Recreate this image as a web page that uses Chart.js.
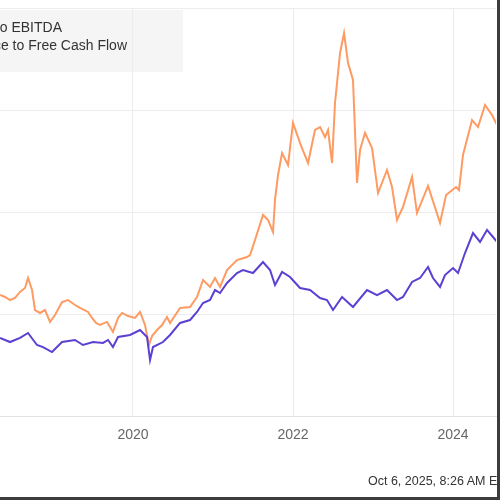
<!DOCTYPE html>
<html>
<head>
<meta charset="utf-8">
<script src="https://cdn.jsdelivr.net/npm/chart.js@4"></script>
<style>
  html, body { margin: 0; padding: 0; width: 500px; height: 500px; overflow: hidden; background: #fff; }
  #wrap { position: relative; width: 500px; height: 500px; overflow: hidden; font-family: "Liberation Sans", Arial, sans-serif; }
  canvas { position: absolute; left: 0; top: 0; }
  .legend { position: absolute; left: 0; top: 10px; width: 183px; height: 62px; background: rgba(236, 236, 236, 0.55); }
  .legend div { position: absolute; white-space: nowrap; font-size: 14px; line-height: 16px; color: #333; }
  .stamp { position: absolute; left: 368px; top: 474px; white-space: nowrap; font-size: 12.5px; color: #333; }
  .edge-r { position: absolute; right: 0; top: 0; width: 3px; height: 500px; background: #3c3c3c; }
  .edge-b { position: absolute; left: 0; bottom: 0; width: 500px; height: 3px; background: #3c3c3c; }
</style>
</head>
<body>
<div id="wrap">
  <canvas id="chart" width="500" height="500"></canvas>
  <div class="legend">
    <div style="right:121px; top:9px;">EV to EBITDA</div>
    <div style="right:56px; top:27px;">Price to Free Cash Flow</div>
  </div>
  <div class="stamp">Oct 6, 2025, 8:26 AM EDT</div>
  <div class="edge-r"></div>
  <div class="edge-b"></div>
</div>
<script>
// dates as decimal years
var evEbitdaDates = [
  2018.338, 2018.463, 2018.588, 2018.688, 2018.800, 2018.875, 2018.988, 2019.113, 2019.275, 2019.375,
  2019.500, 2019.625, 2019.688, 2019.750, 2019.813, 2019.963, 2020.088, 2020.175, 2020.213, 2020.250,
  2020.375, 2020.463, 2020.588, 2020.713, 2020.800, 2020.875, 2020.963, 2021.025, 2021.088, 2021.175,
  2021.300, 2021.375, 2021.500, 2021.625, 2021.713, 2021.775, 2021.863, 2021.963, 2022.088, 2022.213,
  2022.338, 2022.425, 2022.500, 2022.613, 2022.750, 2022.925, 2023.050, 2023.175, 2023.300, 2023.375,
  2023.488, 2023.588, 2023.688, 2023.750, 2023.838, 2023.900, 2024.000, 2024.063, 2024.150, 2024.250,
  2024.338, 2024.425, 2024.500, 2024.563
];
var evEbitdaValues = [
  7.65, 7.25, 7.65, 8.14, 6.96, 6.76, 6.27, 7.25, 7.45, 6.96,
  7.25, 7.16, 7.45, 6.76, 7.75, 7.94, 8.43, 7.75, 5.49, 6.76,
  7.25, 7.94, 9.12, 9.41, 10.20, 11.08, 11.37, 12.35, 12.06, 13.04,
  14.02, 14.31, 14.02, 15.10, 14.31, 12.84, 14.12, 13.63, 12.55, 12.35,
  11.57, 11.37, 10.39, 11.67, 10.69, 12.35, 11.86, 12.35, 11.37, 11.67,
  13.14, 13.53, 14.61, 13.53, 12.65, 13.82, 14.51, 14.02, 15.98, 17.94,
  17.06, 18.24, 17.55, 16.96
];

var priceFcfDates = [
  2018.338, 2018.400, 2018.463, 2018.525, 2018.588, 2018.650, 2018.688, 2018.738, 2018.775, 2018.838,
  2018.900, 2018.963, 2019.025, 2019.113, 2019.188, 2019.275, 2019.338, 2019.438, 2019.488, 2019.538,
  2019.588, 2019.675, 2019.713, 2019.750, 2019.813, 2019.863, 2019.938, 2020.025, 2020.088, 2020.150,
  2020.200, 2020.238, 2020.300, 2020.363, 2020.425, 2020.463, 2020.588, 2020.713, 2020.800, 2020.875,
  2020.963, 2021.025, 2021.088, 2021.175, 2021.300, 2021.425, 2021.463, 2021.525, 2021.625, 2021.688,
  2021.750, 2021.775, 2021.813, 2021.863, 2021.938, 2022.000, 2022.088, 2022.188, 2022.275, 2022.338,
  2022.400, 2022.438, 2022.488, 2022.525, 2022.588, 2022.638, 2022.688, 2022.750, 2022.800, 2022.838,
  2022.900, 2022.988, 2023.063, 2023.175, 2023.238, 2023.300, 2023.375, 2023.488, 2023.550, 2023.688,
  2023.838, 2023.913, 2024.038, 2024.075, 2024.125, 2024.238, 2024.313, 2024.400, 2024.488, 2024.563
];
var priceFcfValues = [
  11.86, 11.67, 11.37, 11.57, 12.16, 12.55, 13.53, 12.35, 10.39, 10.10,
  10.39, 9.22, 9.90, 11.18, 11.37, 10.88, 10.59, 10.20, 9.61, 9.12,
  8.92, 9.22, 8.73, 8.24, 9.61, 10.10, 9.80, 9.61, 10.20, 8.92,
  6.96, 7.84, 8.43, 8.92, 9.71, 9.12, 10.59, 10.69, 11.67, 13.33,
  12.65, 13.53, 12.65, 14.31, 15.29, 15.59, 15.78, 17.25, 19.71, 19.22,
  18.04, 21.18, 23.63, 25.78, 24.61, 28.73, 26.76, 24.80, 28.04, 28.33,
  27.35, 28.04, 24.80, 30.69, 35.59, 37.55, 34.61, 32.94, 22.84, 26.08,
  27.75, 26.27, 21.86, 24.12, 22.45, 19.22, 20.49, 23.43, 19.90, 22.55,
  18.92, 21.67, 22.45, 22.16, 25.59, 29.02, 28.33, 30.49, 29.51, 28.33
];

var xTickValues = [2020, 2022, 2024];
var yTickValues = [0, 10, 20, 30, 40];

function toPoints(dates, values) {
  return dates.map(function (d, i) { return { x: d, y: values[i] }; });
}

document.addEventListener("DOMContentLoaded", function () {
  var ctx = document.getElementById("chart").getContext("2d");
  var grafico = new Chart(ctx, {
    type: "line",
    data: {
      datasets: [
        {
          label: "EV to EBITDA",
          data: toPoints(evEbitdaDates, evEbitdaValues),
          borderColor: "#5c40d2",
          borderWidth: 2,
          pointRadius: 0,
          tension: 0,
        },
        {
          label: "Price to Free Cash Flow",
          data: toPoints(priceFcfDates, priceFcfValues),
          borderColor: "#fd9b62",
          borderWidth: 2,
          pointRadius: 0,
          tension: 0,
        },
      ],
    },
    options: {
      responsive: false,
      animation: false,
      layout: { padding: { left: 0, right: 4, top: 8, bottom: 0 } },
      plugins: { legend: { display: false }, tooltip: { enabled: false } },
      scales: {
        x: {
          type: "linear",
          bounds: "data",
          min: 2018.3375,
          max: 2024.5375,
          afterFit: function (s) { s.height = 84; },
          afterBuildTicks: function (s) { s.ticks = xTickValues.map(function (v) { return { value: v }; }); },
          grid: { color: "#ececec", drawTicks: false },
          border: { color: "#e2e2e2" },
          ticks: {
            padding: 11,
            color: "#666",
            maxRotation: 0,
            font: { size: 14, family: "'Liberation Sans', Arial, sans-serif" },
            callback: function (v) { return String(v); },
          },
        },
        y: {
          position: "right",
          bounds: "data",
          min: 0,
          max: 40,
          afterFit: function (s) { s.width = 0; },
          afterBuildTicks: function (s) { s.ticks = yTickValues.map(function (v) { return { value: v }; }); },
          grid: { color: "#ececec", drawTicks: false },
          border: { display: false },
          ticks: { display: false },
        },
      },
    },
  });
});
</script>
</body>
</html>
